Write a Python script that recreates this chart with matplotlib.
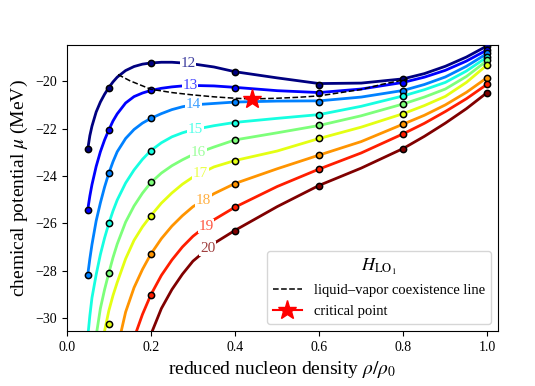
import numpy as np
import matplotlib
matplotlib.use("Agg")
import matplotlib.pyplot as plt
from matplotlib.colors import to_rgba

plt.rcParams['font.family'] = ['Liberation Serif', 'DejaVu Serif']
plt.rcParams['mathtext.fontset'] = 'stix'

# temperatures (MeV) of the isotherms
temps = [12, 13, 14, 15, 16, 17, 18, 19, 20]

# model curves (values below -30.5 lie outside the axes)
x_line = [0.05, 0.055, 0.06, 0.07, 0.08, 0.09, 0.10, 0.11, 0.12, 0.14, 0.16, 0.18, 0.20,
          0.225, 0.25, 0.275, 0.30, 0.35, 0.40, 0.50, 0.60, 0.70, 0.80, 0.85, 0.90, 0.95, 1.00]
mu_12 = [-22.87, -22.30, -21.90, -21.30, -20.88, -20.55, -20.27, -20.03, -19.83, -19.55,
         -19.38, -19.28, -19.23, -19.20, -19.20, -19.23, -19.27, -19.40, -19.60, -19.86,
         -20.10, -20.08, -19.90, -19.68, -19.37, -18.98, -18.50]
mu_13 = [-25.42, -24.85, -24.37, -23.60, -22.98, -22.48, -22.06, -21.68, -21.38, -20.92,
         -20.65, -20.50, -20.39, -20.30, -20.24, -20.20, -20.18, -20.20, -20.26, -20.40,
         -20.48, -20.33, -20.05, -19.83, -19.54, -19.15, -18.67]
mu_14 = [-28.17, -27.50, -26.90, -25.90, -25.14, -24.47, -23.89, -23.40, -22.98, -22.42,
         -22.04, -21.77, -21.57, -21.37, -21.20, -21.08, -21.00, -20.94, -20.88, -20.84,
         -20.83, -20.67, -20.39, -20.14, -19.82, -19.37, -18.82]
mu_15 = [-30.80, -29.90, -29.15, -28.17, -27.32, -26.62, -26.01, -25.48, -25.02, -24.30,
         -23.75, -23.30, -22.93, -22.60, -22.35, -22.18, -22.05, -21.88, -21.74, -21.57,
         -21.41, -21.06, -20.62, -20.36, -20.05, -19.57, -18.97]
mu_16 = [-34.50, -33.30, -32.30, -30.75, -29.60, -28.80, -28.10, -27.45, -26.88, -25.95,
         -25.27, -24.73, -24.28, -23.88, -23.57, -23.32, -23.10, -22.78, -22.48, -22.18,
         -21.87, -21.46, -20.96, -20.67, -20.33, -19.80, -19.12]
mu_17 = [-38.00, -37.00, -36.00, -34.00, -31.60, -30.55, -29.70, -29.05, -28.50, -27.50,
         -26.72, -26.15, -25.68, -25.15, -24.72, -24.35, -24.05, -23.62, -23.35, -22.95,
         -22.42, -21.94, -21.37, -21.03, -20.64, -20.05, -19.30]
mu_18 = [-42.00, -41.00, -40.00, -38.00, -36.50, -35.50, -34.20, -32.60, -31.30, -29.75,
         -28.72, -27.95, -27.30, -26.65, -26.12, -25.68, -25.30, -24.75, -24.32, -23.70,
         -23.12, -22.55, -21.81, -21.44, -21.00, -20.47, -19.84]
mu_19 = [-45.00, -44.00, -43.00, -41.00, -39.50, -38.00, -36.50, -35.00, -33.50, -32.00,
         -30.85, -29.85, -29.02, -28.20, -27.55, -27.00, -26.55, -25.85, -25.32, -24.45,
         -23.71, -23.03, -22.22, -21.78, -21.28, -20.74, -20.12]
mu_20 = [-48.00, -47.00, -46.00, -44.00, -42.50, -41.00, -39.50, -38.00, -36.50, -35.00,
         -33.50, -32.00, -30.70, -29.60, -28.80, -28.15, -27.60, -26.85, -26.30, -25.30,
         -24.40, -23.67, -22.84, -22.33, -21.77, -21.16, -20.47]
mu_lines = [mu_12, mu_13, mu_14, mu_15, mu_16, mu_17, mu_18, mu_19, mu_20]

# simulation points
x_pts = [0.05, 0.1, 0.2, 0.4, 0.6, 0.8, 1.0]
nan = np.nan
pts_12 = [-22.87, -20.27, -19.24, -19.61, -20.14, -19.92, -18.50]
pts_13 = [-25.42, -22.06, -20.39, -20.27, -20.51, -20.06, -18.68]
pts_14 = [-28.17, -23.89, -21.57, -20.88, -20.86, -20.40, -18.82]
pts_15 = [nan, -26.01, -22.93, -21.75, -21.41, -20.62, -18.97]
pts_16 = [nan, -28.10, -24.27, -22.49, -21.87, -20.97, -19.12]
pts_17 = [nan, -30.25, -25.68, -23.35, -22.42, -21.38, -19.30]
pts_18 = [nan, nan, -27.30, -24.33, -23.13, -21.82, -19.85]
pts_19 = [nan, nan, -29.02, -25.32, -23.72, -22.23, -20.13]
pts_20 = [nan, nan, nan, -26.31, -24.41, -22.85, -20.48]
mu_pts = [pts_12, pts_13, pts_14, pts_15, pts_16, pts_17, pts_18, pts_19, pts_20]

# where the inline temperature labels sit
label_x = [0.288, 0.293, 0.301, 0.306, 0.313, 0.318, 0.325, 0.331, 0.335]

# liquid-vapor coexistence line and critical point
x_coex = [0.122, 0.15, 0.2, 0.25, 0.3, 0.35, 0.4, 0.44, 0.5, 0.55, 0.6, 0.7, 0.75, 0.8, 0.81]
mu_coex = [-19.72, -19.98, -20.34, -20.48, -20.58, -20.66, -20.72, -20.75, -20.72,
           -20.68, -20.62, -20.35, -20.13, -19.95, -19.90]
x_crit = 0.44
mu_crit = -20.75

colors = plt.cm.jet(np.linspace(0, 1, len(temps)))

fig = plt.figure(figsize=(5.35, 3.86), dpi=100)
ax = fig.add_axes([0.1247, 0.1425, 0.8061, 0.741])

for T, ys, ps, c, xl in zip(temps, mu_lines, mu_pts, colors, label_x):
    ax.plot(x_line, ys, color=c, lw=2.0, zorder=2, solid_joinstyle='round')
    ax.plot(x_pts, ps, 'o', color=c, ms=4.5, mec='black', mew=1.1, zorder=3)
    yl = np.interp(xl, x_line, ys)
    ax.text(xl, yl, str(T), color=to_rgba(c, 0.75), fontsize=11, ha='center', va='center',
            zorder=4, bbox=dict(boxstyle='square,pad=0.05', fc='white', ec='none'))

ax.plot(x_coex, mu_coex, '--', color='black', lw=1.1, zorder=5,
        label='liquid–vapor coexistence line')
ax.plot([x_crit], [mu_crit], marker='*', color='red', ms=14, lw=1.5, zorder=6,
        label='critical point')

ax.set_xlim(0, 1.025)
ax.set_ylim(-30.55, -18.47)
ax.set_xticks([0.0, 0.2, 0.4, 0.6, 0.8, 1.0])
ax.set_yticks([-30, -28, -26, -24, -22, -20])
ax.tick_params(labelsize=10)
ax.set_xlabel(r'reduced nucleon density $\rho/\rho_0$', fontsize=14)
ax.set_ylabel(r'chemical potential $\mu$ (MeV)', fontsize=14)

leg = ax.legend(loc='lower right', title=r'$H_{\mathrm{LO}_1}$', fontsize=10.5)
leg.get_title().set_fontsize(13)

plt.savefig('out.png', dpi=100)
